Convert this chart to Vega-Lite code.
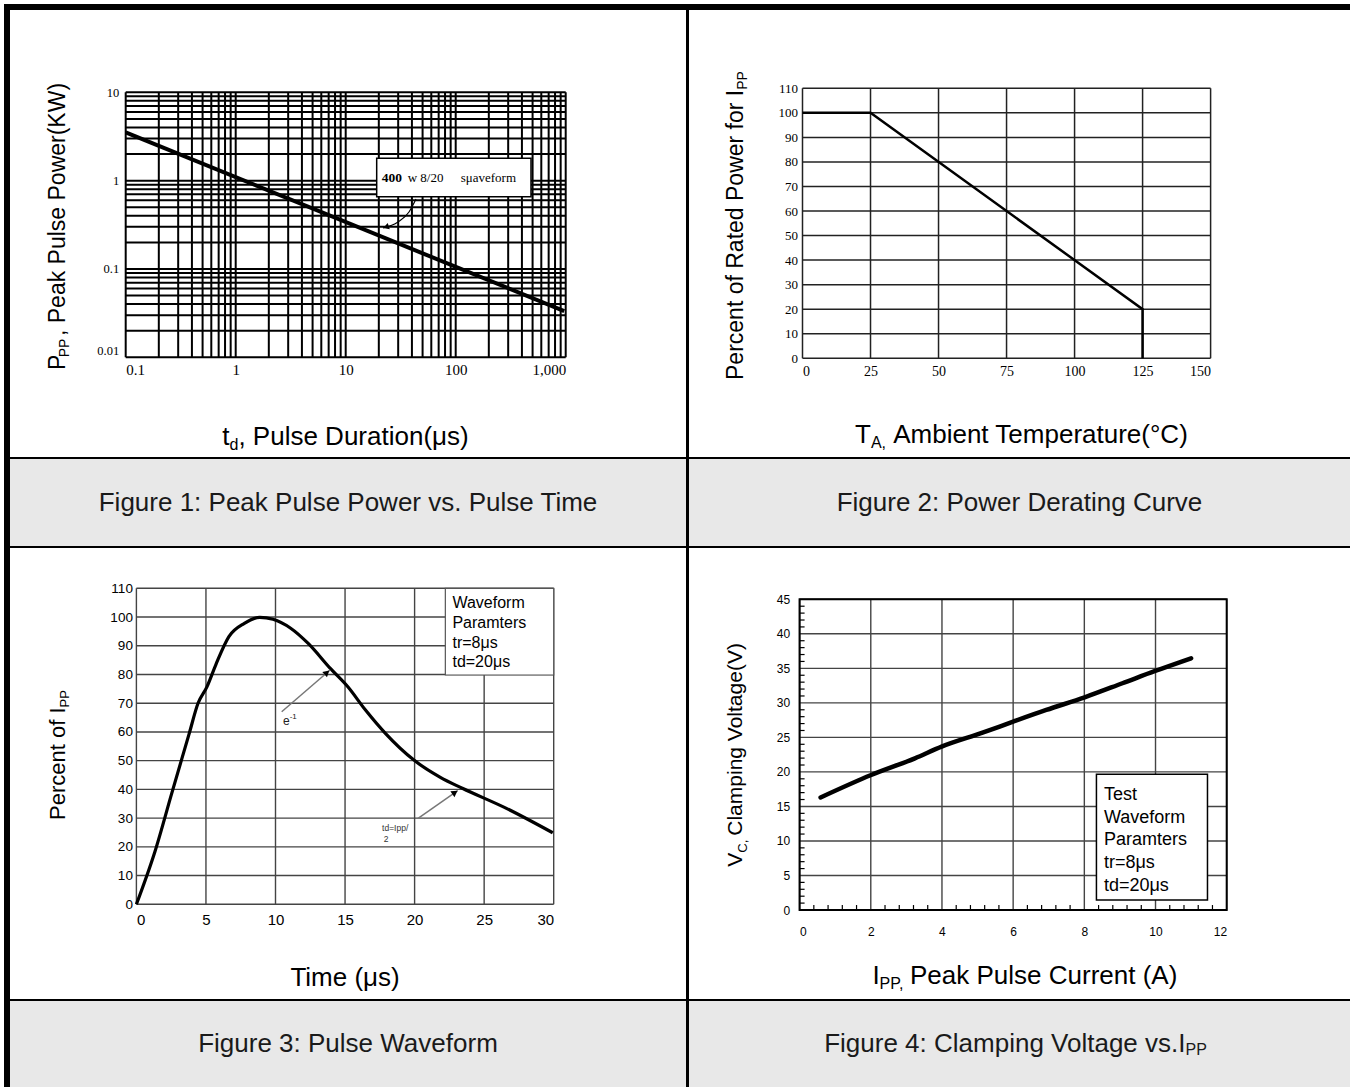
{
"$schema": "https://vega.github.io/schema/vega-lite/v6.json",
"background": "white",
"padding": {"left": 4, "top": 4, "right": 0, "bottom": 0},
"config": {"font": "Liberation Sans", "view": {"stroke": null}, "concat": {"spacing": 0}},
"datasets": {
"one": [{"n": 1}],
"g1x": [{"v":0.1},{"v":0.2},{"v":0.3},{"v":0.4},{"v":0.5},{"v":0.6},{"v":0.7},{"v":0.8},{"v":0.9},{"v":1},{"v":2},{"v":3},{"v":4},{"v":5},{"v":6},{"v":7},{"v":8},{"v":9},{"v":10},{"v":20},{"v":30},{"v":40},{"v":50},{"v":60},{"v":70},{"v":80},{"v":90},{"v":100},{"v":200},{"v":300},{"v":400},{"v":500},{"v":600},{"v":700},{"v":800},{"v":900},{"v":1000}],
"g1y": [{"v":0.01},{"v":0.02},{"v":0.03},{"v":0.04},{"v":0.05},{"v":0.06},{"v":0.07},{"v":0.08},{"v":0.09},{"v":0.1},{"v":0.2},{"v":0.3},{"v":0.4},{"v":0.5},{"v":0.6},{"v":0.7},{"v":0.8},{"v":0.9},{"v":1},{"v":2},{"v":3},{"v":4},{"v":5},{"v":6},{"v":7},{"v":8},{"v":9},{"v":10}],
"g2x": [{"v":0},{"v":25},{"v":50},{"v":75},{"v":100},{"v":125},{"v":150}],
"g2y": [{"v":0},{"v":10},{"v":20},{"v":30},{"v":40},{"v":50},{"v":60},{"v":70},{"v":80},{"v":90},{"v":100},{"v":110}],
"g3x": [{"v":0},{"v":5},{"v":10},{"v":15},{"v":20},{"v":25},{"v":30}],
"g3y": [{"v":0},{"v":10},{"v":20},{"v":30},{"v":40},{"v":50},{"v":60},{"v":70},{"v":80},{"v":90},{"v":100},{"v":110}],
"g4x": [{"v":0},{"v":2},{"v":4},{"v":6},{"v":8},{"v":10},{"v":12}],
"g4y": [{"v":0},{"v":5},{"v":10},{"v":15},{"v":20},{"v":25},{"v":30},{"v":35},{"v":40},{"v":45}],
"t4x": [{"v":0.4},{"v":0.8},{"v":1.2},{"v":1.6},{"v":2.4},{"v":2.8},{"v":3.2},{"v":3.6},{"v":4.4},{"v":4.8},{"v":5.2},{"v":5.6},{"v":6.4},{"v":6.8},{"v":7.2},{"v":7.6},{"v":8.4},{"v":8.8},{"v":9.2},{"v":9.6},{"v":10.4},{"v":10.8},{"v":11.2},{"v":11.6}],
"t4y": [{"v":1},{"v":2},{"v":3},{"v":4},{"v":6},{"v":7},{"v":8},{"v":9},{"v":11},{"v":12},{"v":13},{"v":14},{"v":16},{"v":17},{"v":18},{"v":19},{"v":21},{"v":22},{"v":23},{"v":24},{"v":26},{"v":27},{"v":28},{"v":29},{"v":31},{"v":32},{"v":33},{"v":34},{"v":36},{"v":37},{"v":38},{"v":39},{"v":41},{"v":42},{"v":43},{"v":44}],
"p1": [{"td":0.1,"pp":3.52},{"td":970,"pp":0.0334}],
"p2": [{"k":1,"t":0,"pct":100},{"k":2,"t":25,"pct":100},{"k":3,"t":125,"pct":20},{"k":4,"t":125,"pct":0}],
"p3": [{"t":0,"pct":0},{"t":1.33,"pct":18.3},{"t":2.54,"pct":38.6},{"t":3.8,"pct":59.5},{"t":4.43,"pct":70},{"t":5.07,"pct":75.7},{"t":5.7,"pct":83.3},{"t":6.65,"pct":93.2},{"t":7.76,"pct":97.8},{"t":8.87,"pct":99.9},{"t":9.82,"pct":99.2},{"t":11.09,"pct":96.1},{"t":12.35,"pct":90.8},{"t":13.94,"pct":82.1},{"t":15.2,"pct":75.7},{"t":16.47,"pct":67.6},{"t":17.9,"pct":59.5},{"t":19.95,"pct":50.2},{"t":21.85,"pct":44.2},{"t":23.43,"pct":40.4},{"t":26.6,"pct":33.4},{"t":29.93,"pct":24.9}],
"p4": [{"a":0.59,"v":16.3},{"a":2.01,"v":19.55},{"a":3.24,"v":21.97},{"a":3.99,"v":23.66},{"a":5.14,"v":25.68},{"a":6.0,"v":27.28},{"a":6.93,"v":28.97},{"a":8.01,"v":30.81},{"a":9.07,"v":32.84},{"a":9.99,"v":34.62},{"a":11.0,"v":36.46}],
"a1": [{"x":43.55,"y":0.6196},{"x":37.63,"y":0.4415},{"x":29.89,"y":0.3401},{"x":21.83,"y":0.2909}],
"a3a": [{"x":10.446,"y":67.04},{"x":13.925,"y":81.56}],
"a3b": [{"x":20.25,"y":29.94},{"x":23.1,"y":39.55}]
},
"spacing": 0,
"vconcat": [
{"width": 1346, "height": 6, "view": {"fill": "black"}, "data": {"name": "one"}, "mark": {"type": "text", "text": " ", "fontSize": 1}},
{"spacing": 0, "hconcat": [
{"width": 6, "height": 1077, "view": {"fill": "black"}, "data": {"name": "one"}, "mark": {"type": "text", "text": " ", "fontSize": 1}},
{"spacing": 0, "vconcat": [
{"spacing": 0, "hconcat": [
{"width": 676, "height": 447, "view": {"fill": "white"},
"layer": [
{"data": {"name": "g1x"}, "mark": {"type": "rule", "color": "black", "strokeWidth": 2},
"encoding": {
"x": {"field": "v", "type": "quantitative", "scale": {"type": "log", "domain": [0.1, 1000], "range": [115.7, 555.7], "nice": false},
"axis": {"values": [0.1, 1, 10, 100, 1000], "labelExpr": "datum.value == 1000 ? '1,000' : '' + datum.value", "offset": -99.7, "domain": false, "ticks": false, "tickSize": 0, "grid": false, "title": null, "labelFont": "Liberation Serif", "labelFontSize": 15, "labelPadding": 5, "labelFlush": true, "labelOverlap": false, "labelColor": "black"}},
"y": {"datum": 0.01, "type": "quantitative", "scale": {"type": "log", "domain": [0.01, 10], "range": [347.3, 82.3], "nice": false},
"axis": {"values": [0.01, 0.1, 1, 10], "labelExpr": "'' + datum.value", "offset": -115.7, "domain": false, "ticks": false, "tickSize": 0, "grid": false, "title": null, "labelFont": "Liberation Serif", "labelFontSize": 12.5, "labelPadding": 7, "labelOverlap": false, "labelColor": "black", "labelBaseline": {"condition": {"test": "datum.value < 0.02", "value": "bottom"}, "value": "middle"}}},
"y2": {"datum": 10}}},
{"data": {"name": "g1y"}, "mark": {"type": "rule", "color": "black", "strokeWidth": 2},
"encoding": {"y": {"field": "v", "type": "quantitative"}, "x": {"datum": 0.1, "type": "quantitative"}, "x2": {"datum": 1000}}},
{"data": {"name": "p1"}, "mark": {"type": "line", "color": "black", "strokeWidth": 4},
"encoding": {"x": {"field": "td", "type": "quantitative"}, "y": {"field": "pp", "type": "quantitative"}}},
{"data": {"name": "one"}, "mark": {"type": "rect", "fill": "white", "stroke": "black", "strokeWidth": 1.5},
"encoding": {"x": {"datum": 19.13, "type": "quantitative"}, "x2": {"datum": 483.7}, "y": {"datum": 1.789, "type": "quantitative"}, "y2": {"datum": 0.658}}},
{"data": {"name": "one"}, "mark": {"type": "text", "text": "400", "font": "Liberation Serif", "fontSize": 13.5, "fontWeight": "bold", "align": "left", "baseline": "alphabetic", "color": "black"},
"encoding": {"x": {"datum": 21.24, "type": "quantitative"}, "y": {"datum": 0.9575, "type": "quantitative"}}},
{"data": {"name": "one"}, "mark": {"type": "text", "text": "w 8/20", "font": "Liberation Serif", "fontSize": 13, "align": "left", "baseline": "alphabetic", "color": "black"},
"encoding": {"x": {"datum": 36.6, "type": "quantitative"}, "y": {"datum": 0.9575, "type": "quantitative"}}},
{"data": {"name": "one"}, "mark": {"type": "text", "text": "sμaveform", "font": "Liberation Serif", "fontSize": 13, "align": "left", "baseline": "alphabetic", "color": "black"},
"encoding": {"x": {"datum": 111, "type": "quantitative"}, "y": {"datum": 0.9575, "type": "quantitative"}}},
{"data": {"name": "a1"}, "mark": {"type": "line", "color": "black", "strokeWidth": 1.2, "interpolate": "monotone"},
"encoding": {"x": {"field": "x", "type": "quantitative"}, "y": {"field": "y", "type": "quantitative"}}},
{"data": {"name": "one"}, "mark": {"type": "point", "shape": "triangle-up", "filled": true, "color": "black", "opacity": 1, "size": 45, "angle": 252},
"encoding": {"x": {"datum": 23.25, "type": "quantitative"}, "y": {"datum": 0.2986, "type": "quantitative"}}},
{"data": {"name": "one"}, "mark": {"type": "text", "text": "t", "fontSize": 26, "align": "left", "baseline": "alphabetic", "color": "black"},
"encoding": {"x": {"datum": 0.7553, "type": "quantitative"}, "y": {"datum": 0.001017, "type": "quantitative"}}},
{"data": {"name": "one"}, "mark": {"type": "text", "text": "d", "fontSize": 16, "align": "left", "baseline": "alphabetic", "color": "black"},
"encoding": {"x": {"datum": 0.8781, "type": "quantitative"}, "y": {"datum": 0.000892, "type": "quantitative"}}},
{"data": {"name": "one"}, "mark": {"type": "text", "text": ", Pulse Duration(μs)", "fontSize": 26, "align": "left", "baseline": "alphabetic", "color": "black"},
"encoding": {"x": {"datum": 1.058, "type": "quantitative"}, "y": {"datum": 0.001017, "type": "quantitative"}}},
{"data": {"name": "one"}, "mark": {"type": "text", "text": "P", "fontSize": 23, "angle": 270, "align": "left", "baseline": "alphabetic", "color": "black"},
"encoding": {"x": {"datum": 0.02818, "type": "quantitative"}, "y": {"datum": 0.007181, "type": "quantitative"}}},
{"data": {"name": "one"}, "mark": {"type": "text", "text": "PP", "fontSize": 14, "angle": 270, "align": "left", "baseline": "alphabetic", "color": "black"},
"encoding": {"x": {"datum": 0.03064, "type": "quantitative"}, "y": {"datum": 0.01, "type": "quantitative"}}},
{"data": {"name": "one"}, "mark": {"type": "text", "text": ", Peak Pulse Power(KW)", "fontSize": 23, "angle": 270, "align": "left", "baseline": "alphabetic", "color": "black"},
"encoding": {"x": {"datum": 0.02818, "type": "quantitative"}, "y": {"datum": 0.01742, "type": "quantitative"}}}
]},
{"width": 3, "height": 447, "view": {"fill": "black"}, "data": {"name": "one"}, "mark": {"type": "text", "text": " ", "fontSize": 1}},
{"width": 661, "height": 447, "view": {"fill": "white"},
"layer": [
{"data": {"name": "g2x"}, "mark": {"type": "rule", "color": "#222", "strokeWidth": 1.5},
"encoding": {
"x": {"field": "v", "type": "quantitative", "scale": {"domain": [0, 150], "range": [113.5, 521.6], "nice": false, "zero": false},
"axis": {"values": [0, 25, 50, 75, 100, 125, 150], "offset": -98.7, "domain": false, "ticks": false, "tickSize": 0, "grid": false, "title": null, "labelFont": "Liberation Serif", "labelFontSize": 14, "labelPadding": 6, "labelOverlap": false, "labelColor": "black"}},
"y": {"datum": 0, "type": "quantitative", "scale": {"domain": [0, 110], "range": [348.3, 78.3], "nice": false, "zero": false},
"axis": {"values": [0, 10, 20, 30, 40, 50, 60, 70, 80, 90, 100, 110], "offset": -113.5, "domain": false, "ticks": false, "tickSize": 0, "grid": false, "title": null, "labelFont": "Liberation Serif", "labelFontSize": 13, "labelPadding": 5, "labelOverlap": false, "labelColor": "black"}},
"y2": {"datum": 110}}},
{"data": {"name": "g2y"}, "mark": {"type": "rule", "color": "#222", "strokeWidth": 1.5},
"encoding": {"y": {"field": "v", "type": "quantitative"}, "x": {"datum": 0, "type": "quantitative"}, "x2": {"datum": 150}}},
{"data": {"name": "p2"}, "mark": {"type": "line", "color": "black", "strokeWidth": 2.5},
"encoding": {"x": {"field": "t", "type": "quantitative"}, "y": {"field": "pct", "type": "quantitative"}, "order": {"field": "k"}}},
{"data": {"name": "one"}, "mark": {"type": "text", "text": "T", "fontSize": 26, "align": "left", "baseline": "alphabetic", "color": "black"},
"encoding": {"x": {"datum": 19.3, "type": "quantitative"}, "y": {"datum": -34.34, "type": "quantitative"}}},
{"data": {"name": "one"}, "mark": {"type": "text", "text": "A,", "fontSize": 16, "align": "left", "baseline": "alphabetic", "color": "black"},
"encoding": {"x": {"datum": 25.14, "type": "quantitative"}, "y": {"datum": -36.38, "type": "quantitative"}}},
{"data": {"name": "one"}, "mark": {"type": "text", "text": "Ambient Temperature(°C)", "fontSize": 26, "align": "left", "baseline": "alphabetic", "color": "black"},
"encoding": {"x": {"datum": 33.34, "type": "quantitative"}, "y": {"datum": -34.34, "type": "quantitative"}}},
{"data": {"name": "one"}, "mark": {"type": "text", "text": "Percent of Rated Power for I", "fontSize": 23, "angle": 270, "align": "left", "baseline": "alphabetic", "color": "black"},
"encoding": {"x": {"datum": -21.91, "type": "quantitative"}, "y": {"datum": -8.84, "type": "quantitative"}}},
{"data": {"name": "one"}, "mark": {"type": "text", "text": "PP", "fontSize": 14, "angle": 270, "align": "left", "baseline": "alphabetic", "color": "black"},
"encoding": {"x": {"datum": -20.4, "type": "quantitative"}, "y": {"datum": 109.39, "type": "quantitative"}}}
]}
]},
{"width": 1340, "height": 2, "view": {"fill": "black"}, "data": {"name": "one"}, "mark": {"type": "text", "text": " ", "fontSize": 1}},
{"spacing": 0, "hconcat": [
{"width": 676, "height": 87, "view": {"fill": "#e8e8e8"}, "data": {"values": [{"caption": "Figure 1: Peak Pulse Power vs. Pulse Time"}]}, "mark": {"type": "text", "fontSize": 26, "color": "#1a1a1a"}, "encoding": {"text": {"field": "caption"}}},
{"width": 3, "height": 87, "view": {"fill": "black"}, "data": {"name": "one"}, "mark": {"type": "text", "text": " ", "fontSize": 1}},
{"width": 661, "height": 87, "view": {"fill": "#e8e8e8"}, "data": {"values": [{"caption": "Figure 2: Power Derating Curve"}]}, "mark": {"type": "text", "fontSize": 26, "color": "#1a1a1a"}, "encoding": {"text": {"field": "caption"}}}
]},
{"width": 1340, "height": 2, "view": {"fill": "black"}, "data": {"name": "one"}, "mark": {"type": "text", "text": " ", "fontSize": 1}},
{"spacing": 0, "hconcat": [
{"width": 676, "height": 451, "view": {"fill": "white"},
"layer": [
{"data": {"name": "g3x"}, "mark": {"type": "rule", "color": "#444", "strokeWidth": 1.4},
"encoding": {
"x": {"field": "v", "type": "quantitative", "scale": {"domain": [0, 30], "range": [126.4, 543.7], "nice": false, "zero": false},
"axis": {"values": [0, 5, 10, 15, 20, 25, 30], "offset": -94.7, "domain": false, "ticks": false, "tickSize": 0, "grid": false, "title": null, "labelFontSize": 15, "labelPadding": 8, "labelOverlap": false, "labelColor": "black"}},
"y": {"datum": 0, "type": "quantitative", "scale": {"domain": [0, 110], "range": [356.3, 40.3], "nice": false, "zero": false},
"axis": {"values": [0, 10, 20, 30, 40, 50, 60, 70, 80, 90, 100, 110], "offset": -126.4, "domain": false, "ticks": false, "tickSize": 0, "grid": false, "title": null, "labelFontSize": 13.5, "labelPadding": 4, "labelOverlap": false, "labelColor": "black"}},
"y2": {"datum": 110}}},
{"data": {"name": "g3y"}, "mark": {"type": "rule", "color": "#444", "strokeWidth": 1.4},
"encoding": {"y": {"field": "v", "type": "quantitative"}, "x": {"datum": 0, "type": "quantitative"}, "x2": {"datum": 30}}},
{"data": {"name": "p3"}, "mark": {"type": "line", "color": "black", "strokeWidth": 3.2, "interpolate": "monotone"},
"encoding": {"x": {"field": "t", "type": "quantitative"}, "y": {"field": "pct", "type": "quantitative"}}},
{"data": {"name": "one"}, "mark": {"type": "rect", "fill": "white", "stroke": "#555", "strokeWidth": 1.2},
"encoding": {"x": {"datum": 22.21, "type": "quantitative"}, "x2": {"datum": 30}, "y": {"datum": 79.82, "type": "quantitative"}, "y2": {"datum": 110}}},
{"data": {"name": "one"}, "mark": {"type": "text", "text": ["Waveform", "Paramters", "tr=8μs", "td=20μs"], "fontSize": 16, "lineHeight": 19.8, "align": "left", "baseline": "alphabetic", "color": "black"},
"encoding": {"x": {"datum": 22.72, "type": "quantitative"}, "y": {"datum": 103.14, "type": "quantitative"}}},
{"data": {"name": "a3a"}, "mark": {"type": "line", "color": "#777", "strokeWidth": 1.5},
"encoding": {"x": {"field": "x", "type": "quantitative"}, "y": {"field": "y", "type": "quantitative"}}},
{"data": {"name": "one"}, "mark": {"type": "point", "shape": "triangle-up", "filled": true, "color": "black", "opacity": 1, "size": 50, "angle": 49},
"encoding": {"x": {"datum": 13.7, "type": "quantitative"}, "y": {"datum": 80.65, "type": "quantitative"}}},
{"data": {"name": "one"}, "mark": {"type": "text", "text": "e", "fontSize": 12, "align": "left", "baseline": "alphabetic", "color": "#222"},
"encoding": {"x": {"datum": 10.54, "type": "quantitative"}, "y": {"datum": 62.41, "type": "quantitative"}}},
{"data": {"name": "one"}, "mark": {"type": "text", "text": "-1", "fontSize": 8, "align": "left", "baseline": "alphabetic", "color": "#222"},
"encoding": {"x": {"datum": 11.02, "type": "quantitative"}, "y": {"datum": 64.5, "type": "quantitative"}}},
{"data": {"name": "a3b"}, "mark": {"type": "line", "color": "#777", "strokeWidth": 1.5},
"encoding": {"x": {"field": "x", "type": "quantitative"}, "y": {"field": "y", "type": "quantitative"}}},
{"data": {"name": "one"}, "mark": {"type": "point", "shape": "triangle-up", "filled": true, "color": "black", "opacity": 1, "size": 50, "angle": 55},
"encoding": {"x": {"datum": 22.9, "type": "quantitative"}, "y": {"datum": 38.92, "type": "quantitative"}}},
{"data": {"name": "one"}, "mark": {"type": "text", "text": "td=Ipp/", "fontSize": 8.5, "align": "left", "baseline": "alphabetic", "color": "#333"},
"encoding": {"x": {"datum": 17.66, "type": "quantitative"}, "y": {"datum": 25.52, "type": "quantitative"}}},
{"data": {"name": "one"}, "mark": {"type": "text", "text": "2", "fontSize": 8.5, "align": "left", "baseline": "alphabetic", "color": "#333"},
"encoding": {"x": {"datum": 17.79, "type": "quantitative"}, "y": {"datum": 21.79, "type": "quantitative"}}},
{"data": {"name": "one"}, "mark": {"type": "text", "text": "Time (μs)", "fontSize": 26, "align": "center", "baseline": "alphabetic", "color": "black"},
"encoding": {"x": {"datum": 15, "type": "quantitative"}, "y": {"datum": -28.44, "type": "quantitative"}}},
{"data": {"name": "one"}, "mark": {"type": "text", "text": "Percent of I", "fontSize": 22, "angle": 270, "align": "left", "baseline": "alphabetic", "color": "black"},
"encoding": {"x": {"datum": -5.126, "type": "quantitative"}, "y": {"datum": 29.35, "type": "quantitative"}}},
{"data": {"name": "one"}, "mark": {"type": "text", "text": "PP", "fontSize": 13, "angle": 270, "align": "left", "baseline": "alphabetic", "color": "black"},
"encoding": {"x": {"datum": -4.838, "type": "quantitative"}, "y": {"datum": 68.51, "type": "quantitative"}}}
]},
{"width": 3, "height": 451, "view": {"fill": "black"}, "data": {"name": "one"}, "mark": {"type": "text", "text": " ", "fontSize": 1}},
{"width": 661, "height": 451, "view": {"fill": "white"},
"layer": [
{"data": {"name": "g4x"}, "mark": {"type": "rule", "color": "#444", "strokeWidth": 1.4},
"encoding": {
"x": {"field": "v", "type": "quantitative", "scale": {"domain": [0, 12], "range": [110.6, 537.7], "nice": false, "zero": false},
"axis": {"values": [0, 2, 4, 6, 8, 10, 12], "format": "d", "offset": -89, "domain": false, "ticks": false, "tickSize": 0, "grid": false, "title": null, "labelFontSize": 12, "labelPadding": 16, "labelOverlap": false, "labelColor": "black"}},
"y": {"datum": 0, "type": "quantitative", "scale": {"domain": [0, 45], "range": [362, 51.3], "nice": false, "zero": false},
"axis": {"values": [0, 5, 10, 15, 20, 25, 30, 35, 40, 45], "format": "d", "offset": -110.6, "domain": false, "ticks": false, "tickSize": 0, "grid": false, "title": null, "labelFontSize": 12, "labelPadding": 10, "labelOverlap": false, "labelColor": "black"}},
"y2": {"datum": 45}}},
{"data": {"name": "g4y"}, "mark": {"type": "rule", "color": "#444", "strokeWidth": 1.4},
"encoding": {"y": {"field": "v", "type": "quantitative"}, "x": {"datum": 0, "type": "quantitative"}, "x2": {"datum": 12}}},
{"data": {"name": "t4x"}, "mark": {"type": "rule", "color": "black", "strokeWidth": 1.2},
"encoding": {"x": {"field": "v", "type": "quantitative"}, "y": {"datum": 0, "type": "quantitative"}, "y2": {"datum": 0.72}}},
{"data": {"name": "t4y"}, "mark": {"type": "rule", "color": "black", "strokeWidth": 1.2},
"encoding": {"y": {"field": "v", "type": "quantitative"}, "x": {"datum": 0, "type": "quantitative"}, "x2": {"datum": 0.14}}},
{"data": {"name": "one"}, "mark": {"type": "rect", "fillOpacity": 0, "stroke": "black", "strokeWidth": 2},
"encoding": {"x": {"datum": 0, "type": "quantitative"}, "x2": {"datum": 12}, "y": {"datum": 0, "type": "quantitative"}, "y2": {"datum": 45}}},
{"data": {"name": "p4"}, "mark": {"type": "line", "color": "black", "strokeWidth": 4.5, "strokeCap": "round", "interpolate": "monotone"},
"encoding": {"x": {"field": "a", "type": "quantitative"}, "y": {"field": "v", "type": "quantitative"}}},
{"data": {"name": "one"}, "mark": {"type": "rect", "fill": "white", "stroke": "black", "strokeWidth": 1.5},
"encoding": {"x": {"datum": 8.34, "type": "quantitative"}, "x2": {"datum": 11.46}, "y": {"datum": 1.45, "type": "quantitative"}, "y2": {"datum": 19.66}}},
{"data": {"name": "one"}, "mark": {"type": "text", "text": ["Test", "Waveform", "Paramters", "tr=8μs", "td=20μs"], "fontSize": 18, "lineHeight": 22.9, "align": "left", "baseline": "alphabetic", "color": "black"},
"encoding": {"x": {"datum": 8.55, "type": "quantitative"}, "y": {"datum": 15.98, "type": "quantitative"}}},
{"data": {"name": "one"}, "mark": {"type": "text", "text": "I", "fontSize": 26, "align": "left", "baseline": "alphabetic", "color": "black"},
"encoding": {"x": {"datum": 2.045, "type": "quantitative"}, "y": {"datum": -10.76, "type": "quantitative"}}},
{"data": {"name": "one"}, "mark": {"type": "text", "text": "PP,", "fontSize": 16, "align": "left", "baseline": "alphabetic", "color": "black"},
"encoding": {"x": {"datum": 2.248, "type": "quantitative"}, "y": {"datum": -11.49, "type": "quantitative"}}},
{"data": {"name": "one"}, "mark": {"type": "text", "text": "Peak Pulse Current (A)", "fontSize": 26, "align": "left", "baseline": "alphabetic", "color": "black"},
"encoding": {"x": {"datum": 3.102, "type": "quantitative"}, "y": {"datum": -10.76, "type": "quantitative"}}},
{"data": {"name": "one"}, "mark": {"type": "text", "text": "V", "fontSize": 21, "angle": 270, "align": "left", "baseline": "alphabetic", "color": "black"},
"encoding": {"x": {"datum": -1.618, "type": "quantitative"}, "y": {"datum": 6.27, "type": "quantitative"}}},
{"data": {"name": "one"}, "mark": {"type": "text", "text": "C,", "fontSize": 13, "angle": 270, "align": "left", "baseline": "alphabetic", "color": "black"},
"encoding": {"x": {"datum": -1.478, "type": "quantitative"}, "y": {"datum": 8.3, "type": "quantitative"}}},
{"data": {"name": "one"}, "mark": {"type": "text", "text": "Clamping Voltage(V)", "fontSize": 21, "angle": 270, "align": "left", "baseline": "alphabetic", "color": "black"},
"encoding": {"x": {"datum": -1.618, "type": "quantitative"}, "y": {"datum": 10.76, "type": "quantitative"}}}
]}
]},
{"width": 1340, "height": 2, "view": {"fill": "black"}, "data": {"name": "one"}, "mark": {"type": "text", "text": " ", "fontSize": 1}},
{"spacing": 0, "hconcat": [
{"width": 676, "height": 86, "view": {"fill": "#e8e8e8"}, "data": {"values": [{"caption": "Figure 3: Pulse Waveform"}]}, "mark": {"type": "text", "fontSize": 26, "color": "#1a1a1a"}, "encoding": {"text": {"field": "caption"}}},
{"width": 3, "height": 86, "view": {"fill": "black"}, "data": {"name": "one"}, "mark": {"type": "text", "text": " ", "fontSize": 1}},
{"width": 661, "height": 86, "view": {"fill": "#e8e8e8"},
"layer": [
{"data": {"values": [{"caption": "Figure 4: Clamping Voltage vs.I"}]}, "mark": {"type": "text", "fontSize": 26, "color": "#1a1a1a", "align": "right", "dx": 166}, "encoding": {"text": {"field": "caption"}}},
{"data": {"values": [{"caption": "PP"}]}, "mark": {"type": "text", "fontSize": 16, "color": "#1a1a1a", "align": "left", "dx": 166, "dy": 6}, "encoding": {"text": {"field": "caption"}}}
]}
]}
]}
]}
]
}
